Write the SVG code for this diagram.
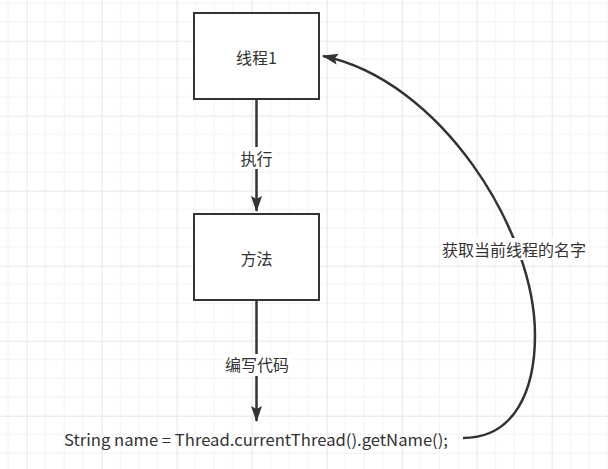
<svg xmlns="http://www.w3.org/2000/svg" width="608" height="469" viewBox="0 0 608 469">
<defs>
<pattern id="grid" patternUnits="userSpaceOnUse" x="26.7" y="40.7" width="75" height="75">
<path d="M18.75 0V75M37.5 0V75M56.25 0V75M0 18.75H75M0 37.5H75M0 56.25H75" stroke="#f2f2f2" stroke-width="1" fill="none"/>
<path d="M0.5 0V75M0 0.5H75" stroke="#e6e6e6" stroke-width="1" fill="none"/>
</pattern>
<marker id="arr" markerUnits="userSpaceOnUse" viewBox="0 0 16 12" markerWidth="16" markerHeight="12" refX="15" refY="6" orient="auto">
<path d="M0,0.5 L16,6 L0,11.5 L3,6 Z" fill="#333"/>
</marker>
</defs>
<style>
.box{fill:#fff;stroke:#333;stroke-width:2}
.t{font-family:"Microsoft YaHei","Noto Sans CJK SC","Noto Sans",sans-serif;font-size:16px;fill:#333;text-anchor:middle;dominant-baseline:central}
.edge{fill:none;stroke:#333;stroke-width:2.5}
</style>
<rect width="608" height="469" fill="#fff"/>
<rect width="608" height="469" fill="url(#grid)"/>
<g id="connectors">
<path class="edge" d="M256.5 100V211" marker-end="url(#arr)"/>
<path class="edge" d="M256.5 301V421" marker-end="url(#arr)"/>
<path class="edge" d="M463 438C515 438 535 390 535 335C535 230 440 80 323 56" marker-end="url(#arr)"/>
<rect x="238" y="147" width="37" height="22" fill="#fff"/>
<text class="t" x="256.5" y="158">执行</text>
<rect x="223" y="354" width="68" height="22" fill="#fff"/>
<text class="t" x="257" y="364">编写代码</text>
<rect x="440" y="238" width="149" height="22" fill="#fff"/>
<text class="t" x="514" y="249">获取当前线程的名字</text>
</g>
<g id="node-thread1">
<rect class="box" x="194" y="13" width="125" height="86"/>
<text class="t" x="256.5" y="56.5">线程1</text>
</g>
<g id="node-method">
<rect class="box" x="194" y="214" width="125" height="86"/>
<text class="t" x="256.5" y="258">方法</text>
</g>
<g id="node-code">
<text class="t" x="256" y="439" textLength="384" lengthAdjust="spacingAndGlyphs">String name = Thread.currentThread().getName();</text>
</g>
</svg>
